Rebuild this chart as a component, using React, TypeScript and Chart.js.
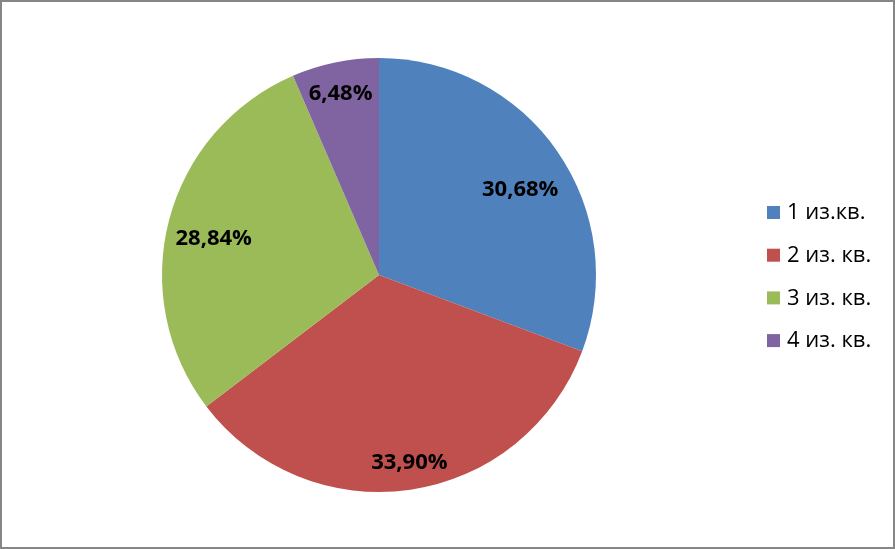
import React, { useEffect, useRef } from "react";
import { Chart, registerables } from "chart.js";

Chart.register(...registerables);

const categories = ["1 из.кв.", "2 из. кв.", "3 из. кв.", "4 из. кв."];
const values = [30.68, 33.9, 28.84, 6.48];
const valueLabels = ["30,68%", "33,90%", "28,84%", "6,48%"];
const colors = ["#4F81BD", "#C0504D", "#9BBB59", "#8064A2"];
const labelRadiusFraction = [0.76, 0.878, 0.78, 0.853];
const labelAngleShiftDeg = [3.6, -0.8, -2.3, -0.3];

const FONT = "'Open Sans', 'Noto Sans', sans-serif";

const overlayPlugin = {
  id: "overlay",
  afterDatasetsDraw(chart: any) {
    const ctx = chart.ctx as CanvasRenderingContext2D;
    const meta = chart.getDatasetMeta(0);
    ctx.save();
    ctx.fillStyle = "#000";
    ctx.font = `bold 22px ${FONT}`;
    ctx.textAlign = "center";
    ctx.textBaseline = "middle";
    meta.data.forEach((arc: any, i: number) => {
      const { x, y, startAngle, endAngle, outerRadius } = arc.getProps(
        ["x", "y", "startAngle", "endAngle", "outerRadius"],
        true
      );
      const mid = (startAngle + endAngle) / 2 + (labelAngleShiftDeg[i] * Math.PI) / 180;
      const r = outerRadius * labelRadiusFraction[i];
      ctx.fillText(valueLabels[i], x + Math.cos(mid) * r, y + Math.sin(mid) * r);
    });

    // legend
    ctx.font = `22px ${FONT}`;
    ctx.textAlign = "left";
    const lx = 767;
    const ly0 = 212;
    const step = 42.7;
    categories.forEach((c, i) => {
      const cy = ly0 + i * step;
      ctx.fillStyle = colors[i];
      ctx.fillRect(lx, cy - 6, 13, 13);
      ctx.fillStyle = "#000";
      ctx.fillText(c, lx + 20, cy + 1);
    });

    // border
    ctx.strokeStyle = "#868686";
    ctx.lineWidth = 2;
    ctx.strokeRect(1, 1, chart.width - 2, chart.height - 2);
    ctx.restore();
  },
};

export default function App() {
  const ref = useRef<HTMLCanvasElement | null>(null);
  useEffect(() => {
    document.body.style.margin = "0";
    if (!ref.current) return;
    const chart = new Chart(ref.current, {
      type: "pie",
      data: {
        labels: categories,
        datasets: [
          {
            data: values,
            backgroundColor: colors,
            borderWidth: 0,
          },
        ],
      },
      options: {
        animation: false,
        responsive: false,
        maintainAspectRatio: false,
        layout: { padding: { left: 162, right: 299, top: 58, bottom: 57 } },
        plugins: {
          legend: { display: false },
          tooltip: { enabled: false },
          title: { display: false },
        },
      },
      plugins: [overlayPlugin],
    });
    return () => chart.destroy();
  }, []);
  return (
    <div style={{ position: "fixed", left: 0, top: 0, width: 895, height: 549, background: "#fff" }}>
      <canvas ref={ref} width={895} height={549} style={{ width: 895, height: 549 }} />
    </div>
  );
}
